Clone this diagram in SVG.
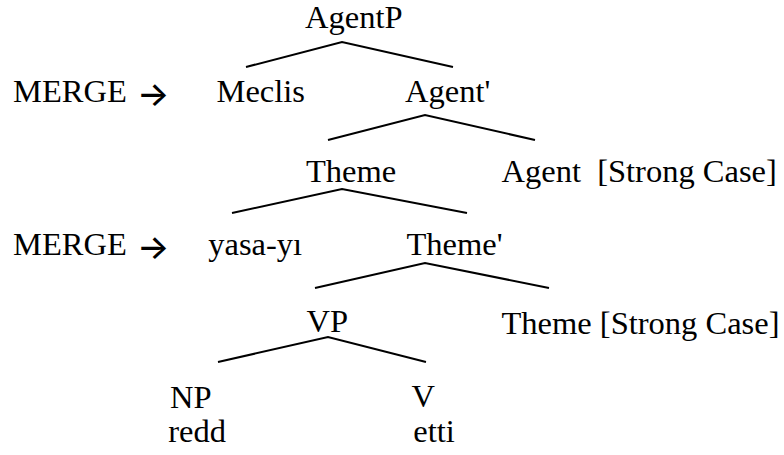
<svg xmlns="http://www.w3.org/2000/svg" width="784" height="455" viewBox="0 0 784 455">
<style>
text{font-family:'Liberation Serif','Tinos','Times New Roman','DejaVu Serif',serif;font-size:32.5px;fill:#000}
.arr{font-family:'Inter','Lato','DejaVu Sans',sans-serif;font-size:34px;font-weight:500}
.e{stroke:#000;stroke-width:2;fill:none}
</style>
<rect width="784" height="455" fill="#fff"/>
<g id="connectors">
<polyline class="e" points="246,67 342,42 453,67"/>
<polyline class="e" points="328,140 425,115 535,140"/>
<polyline class="e" points="232,213 342,189 467,213"/>
<polyline class="e" points="315,288 425,263 549,288"/>
<polyline class="e" points="218,362 328,337 426,362"/>
</g>
<g id="AgentP"><text x="305" y="28">AgentP</text></g>
<g id="merge1"><text x="13" y="101.5">MERGE</text><text class="arr" x="137" y="105.5">→</text></g>
<g id="Meclis"><text x="216.5" y="101.5">Meclis</text></g>
<g id="AgentBar"><text x="405" y="101.5">Agent'</text></g>
<g id="Theme"><text x="306" y="181.5">Theme</text></g>
<g id="Agent"><text x="501.5" y="181.5" xml:space="preserve">Agent  [Strong Case]</text></g>
<g id="merge2"><text x="13" y="255">MERGE</text><text class="arr" x="137" y="259">→</text></g>
<g id="yasa"><text x="208.3" y="255">yasa-yı</text></g>
<g id="ThemeBar"><text x="406.5" y="255">Theme'</text></g>
<g id="VP"><text x="306.5" y="332">VP</text></g>
<g id="Theme2"><text x="501.5" y="334">Theme [Strong Case]</text></g>
<g id="NP"><text x="170" y="408">NP</text><text x="168.3" y="441.5">redd</text></g>
<g id="V"><text x="411.5" y="407">V</text><text x="413.3" y="441.5">etti</text></g>
</svg>
